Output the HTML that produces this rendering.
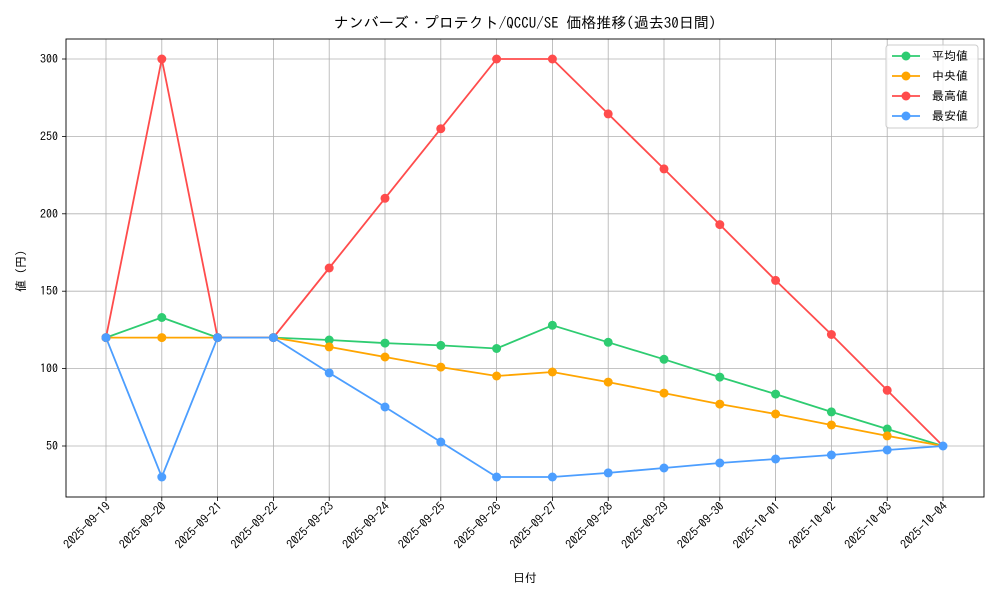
<!DOCTYPE html><html><head><meta charset="utf-8"><style>body{margin:0;background:#fff}svg text{font-family:"IPAGothic","Noto Sans CJK JP",monospace;fill:#000}</style></head><body>
<svg width="1000" height="600" xmlns="http://www.w3.org/2000/svg">
<rect width="1000" height="600" fill="#fff"/>
<text x="525" y="28" font-size="15" text-anchor="middle">ナンバーズ・プロテクト/QCCU/SE 価格推移(過去30日間)</text>
<g stroke="#b0b0b0" stroke-width="0.8">
<line x1="106" y1="39" x2="106" y2="497"/><line x1="161.8" y1="39" x2="161.8" y2="497"/><line x1="217.6" y1="39" x2="217.6" y2="497"/><line x1="273.4" y1="39" x2="273.4" y2="497"/><line x1="329.2" y1="39" x2="329.2" y2="497"/><line x1="385" y1="39" x2="385" y2="497"/><line x1="440.8" y1="39" x2="440.8" y2="497"/><line x1="496.6" y1="39" x2="496.6" y2="497"/><line x1="552.4" y1="39" x2="552.4" y2="497"/><line x1="608.2" y1="39" x2="608.2" y2="497"/><line x1="664" y1="39" x2="664" y2="497"/><line x1="719.8" y1="39" x2="719.8" y2="497"/><line x1="775.6" y1="39" x2="775.6" y2="497"/><line x1="831.4" y1="39" x2="831.4" y2="497"/><line x1="887.2" y1="39" x2="887.2" y2="497"/><line x1="943" y1="39" x2="943" y2="497"/>
<line x1="66" y1="446" x2="984" y2="446"/><line x1="66" y1="368.6" x2="984" y2="368.6"/><line x1="66" y1="291.2" x2="984" y2="291.2"/><line x1="66" y1="213.8" x2="984" y2="213.8"/><line x1="66" y1="136.4" x2="984" y2="136.4"/><line x1="66" y1="59" x2="984" y2="59"/>
</g>
<rect x="66" y="39" width="918" height="458" fill="none" stroke="#000" stroke-width="0.9"/>
<g font-size="12" text-anchor="end">
<text x="58" y="450">50</text><text x="58" y="372.6">100</text><text x="58" y="295.2">150</text><text x="58" y="217.8">200</text><text x="58" y="140.4">250</text><text x="58" y="63">300</text>
</g>
<g stroke="#000" stroke-width="0.8"><line x1="62" y1="446" x2="66" y2="446"/><line x1="62" y1="368.6" x2="66" y2="368.6"/><line x1="62" y1="291.2" x2="66" y2="291.2"/><line x1="62" y1="213.8" x2="66" y2="213.8"/><line x1="62" y1="136.4" x2="66" y2="136.4"/><line x1="62" y1="59" x2="66" y2="59"/></g>
<g stroke="#000" stroke-width="0.8"><line x1="106" y1="497" x2="106" y2="501"/><line x1="161.8" y1="497" x2="161.8" y2="501"/><line x1="217.6" y1="497" x2="217.6" y2="501"/><line x1="273.4" y1="497" x2="273.4" y2="501"/><line x1="329.2" y1="497" x2="329.2" y2="501"/><line x1="385" y1="497" x2="385" y2="501"/><line x1="440.8" y1="497" x2="440.8" y2="501"/><line x1="496.6" y1="497" x2="496.6" y2="501"/><line x1="552.4" y1="497" x2="552.4" y2="501"/><line x1="608.2" y1="497" x2="608.2" y2="501"/><line x1="664" y1="497" x2="664" y2="501"/><line x1="719.8" y1="497" x2="719.8" y2="501"/><line x1="775.6" y1="497" x2="775.6" y2="501"/><line x1="831.4" y1="497" x2="831.4" y2="501"/><line x1="887.2" y1="497" x2="887.2" y2="501"/><line x1="943" y1="497" x2="943" y2="501"/></g>
<g font-size="12" text-anchor="end">
<text transform="translate(111,507) rotate(-45)">2025-09-19</text><text transform="translate(166.8,507) rotate(-45)">2025-09-20</text><text transform="translate(222.6,507) rotate(-45)">2025-09-21</text><text transform="translate(278.4,507) rotate(-45)">2025-09-22</text><text transform="translate(334.2,507) rotate(-45)">2025-09-23</text><text transform="translate(390,507) rotate(-45)">2025-09-24</text><text transform="translate(445.8,507) rotate(-45)">2025-09-25</text><text transform="translate(501.6,507) rotate(-45)">2025-09-26</text><text transform="translate(557.4,507) rotate(-45)">2025-09-27</text><text transform="translate(613.2,507) rotate(-45)">2025-09-28</text><text transform="translate(669,507) rotate(-45)">2025-09-29</text><text transform="translate(724.8,507) rotate(-45)">2025-09-30</text><text transform="translate(780.6,507) rotate(-45)">2025-10-01</text><text transform="translate(836.4,507) rotate(-45)">2025-10-02</text><text transform="translate(892.2,507) rotate(-45)">2025-10-03</text><text transform="translate(948,507) rotate(-45)">2025-10-04</text>
</g>
<text x="525" y="582" font-size="12" text-anchor="middle">日付</text>
<text transform="translate(25,268) rotate(-90)" font-size="12" text-anchor="middle">値（円）</text>
<g fill="none" stroke-width="1.8">
<polyline stroke="#2ecc71" points="106,337.6 161.8,317.5 217.6,337.6 273.4,337.6 329.2,340 385,343.1 440.8,345.4 496.6,348.5 552.4,325.3 608.2,342.3 664,359.3 719.8,377.1 775.6,394.1 831.4,411.9 887.2,429 943,446"/>
<polyline stroke="#ffa500" points="106,337.6 161.8,337.6 217.6,337.6 273.4,337.6 329.2,346.9 385,357 440.8,367.1 496.6,376 552.4,372 608.2,382.1 664,393.1 719.8,404.1 775.6,414 831.4,425 887.2,435.9 943,446"/>
<polyline stroke="#ff4c4c" points="106,337.6 161.8,59 217.6,337.6 273.4,337.6 329.2,268 385,198.3 440.8,128.7 496.6,59 552.4,59 608.2,113.9 664,168.9 719.8,224.6 775.6,280.4 831.4,334.5 887.2,390.3 943,446"/>
<polyline stroke="#4c9eff" points="106,337.6 161.8,477 217.6,337.6 273.4,337.6 329.2,372.9 385,407 440.8,442 496.6,477 552.4,477 608.2,472.9 664,468 719.8,463 775.6,459 831.4,455 887.2,450 943,446"/>
</g>
<g fill="#2ecc71"><circle cx="106" cy="337.6" r="4.5"/><circle cx="161.8" cy="317.5" r="4.5"/><circle cx="217.6" cy="337.6" r="4.5"/><circle cx="273.4" cy="337.6" r="4.5"/><circle cx="329.2" cy="340" r="4.5"/><circle cx="385" cy="343.1" r="4.5"/><circle cx="440.8" cy="345.4" r="4.5"/><circle cx="496.6" cy="348.5" r="4.5"/><circle cx="552.4" cy="325.3" r="4.5"/><circle cx="608.2" cy="342.3" r="4.5"/><circle cx="664" cy="359.3" r="4.5"/><circle cx="719.8" cy="377.1" r="4.5"/><circle cx="775.6" cy="394.1" r="4.5"/><circle cx="831.4" cy="411.9" r="4.5"/><circle cx="887.2" cy="429" r="4.5"/></g>
<g fill="#ffa500"><circle cx="106" cy="337.6" r="4.5"/><circle cx="161.8" cy="337.6" r="4.5"/><circle cx="217.6" cy="337.6" r="4.5"/><circle cx="273.4" cy="337.6" r="4.5"/><circle cx="329.2" cy="346.9" r="4.5"/><circle cx="385" cy="357" r="4.5"/><circle cx="440.8" cy="367.1" r="4.5"/><circle cx="496.6" cy="376" r="4.5"/><circle cx="552.4" cy="372" r="4.5"/><circle cx="608.2" cy="382.1" r="4.5"/><circle cx="664" cy="393.1" r="4.5"/><circle cx="719.8" cy="404.1" r="4.5"/><circle cx="775.6" cy="414" r="4.5"/><circle cx="831.4" cy="425" r="4.5"/><circle cx="887.2" cy="435.9" r="4.5"/></g>
<g fill="#ff4c4c"><circle cx="106" cy="337.6" r="4.5"/><circle cx="161.8" cy="59" r="4.5"/><circle cx="217.6" cy="337.6" r="4.5"/><circle cx="273.4" cy="337.6" r="4.5"/><circle cx="329.2" cy="268" r="4.5"/><circle cx="385" cy="198.3" r="4.5"/><circle cx="440.8" cy="128.7" r="4.5"/><circle cx="496.6" cy="59" r="4.5"/><circle cx="552.4" cy="59" r="4.5"/><circle cx="608.2" cy="113.9" r="4.5"/><circle cx="664" cy="168.9" r="4.5"/><circle cx="719.8" cy="224.6" r="4.5"/><circle cx="775.6" cy="280.4" r="4.5"/><circle cx="831.4" cy="334.5" r="4.5"/><circle cx="887.2" cy="390.3" r="4.5"/></g>
<g fill="#4c9eff"><circle cx="106" cy="337.6" r="4.5"/><circle cx="161.8" cy="477" r="4.5"/><circle cx="217.6" cy="337.6" r="4.5"/><circle cx="273.4" cy="337.6" r="4.5"/><circle cx="329.2" cy="372.9" r="4.5"/><circle cx="385" cy="407" r="4.5"/><circle cx="440.8" cy="442" r="4.5"/><circle cx="496.6" cy="477" r="4.5"/><circle cx="552.4" cy="477" r="4.5"/><circle cx="608.2" cy="472.9" r="4.5"/><circle cx="664" cy="468" r="4.5"/><circle cx="719.8" cy="463" r="4.5"/><circle cx="775.6" cy="459" r="4.5"/><circle cx="831.4" cy="455" r="4.5"/><circle cx="887.2" cy="450" r="4.5"/><circle cx="943" cy="446" r="4.5"/></g>
<rect x="886" y="45" width="92" height="83" rx="3" fill="#fff" fill-opacity="0.85" stroke="#ccc"/>
<g stroke-width="1.8"><line x1="892" y1="56" x2="920" y2="56" stroke="#2ecc71"/><line x1="892" y1="76" x2="920" y2="76" stroke="#ffa500"/><line x1="892" y1="96" x2="920" y2="96" stroke="#ff4c4c"/><line x1="892" y1="116" x2="920" y2="116" stroke="#4c9eff"/></g>
<circle cx="906" cy="56" r="4.5" fill="#2ecc71"/><circle cx="906" cy="76" r="4.5" fill="#ffa500"/><circle cx="906" cy="96" r="4.5" fill="#ff4c4c"/><circle cx="906" cy="116" r="4.5" fill="#4c9eff"/>
<g font-size="12"><text x="932" y="60">平均値</text><text x="932" y="80"> 中央値</text><text x="932" y="100">最高値</text><text x="932" y="120">最安値</text></g>
</svg></body></html>
